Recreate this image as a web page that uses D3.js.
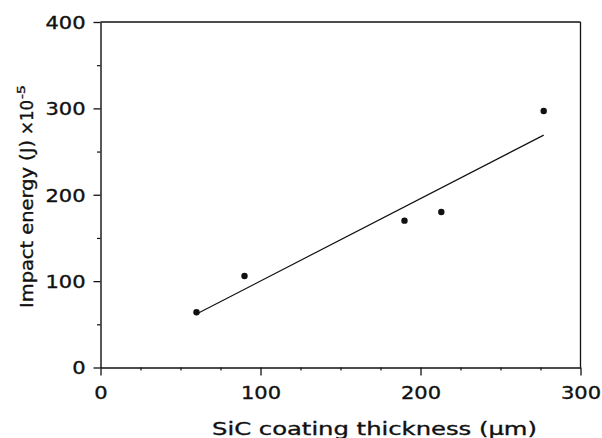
<!DOCTYPE html>
<html>
<head>
<meta charset="utf-8">
<script src="https://cdn.jsdelivr.net/npm/d3@7"></script>
<style>
  html, body { margin: 0; padding: 0; background: #fff; }
  svg { display: block; }
  text { font-family: "DejaVu Sans", sans-serif; fill: #111; stroke: #111; stroke-width: 0.35px; }
</style>
</head>
<body>
<svg id="chart" width="602" height="438"></svg>
<script>
// ---- data ----
const thicknessUm = [60, 90, 190, 213, 277];
const impactEnergy = [64, 106, 170, 180, 297];
const fitThickness = [60, 277];
const fitEnergy = [62, 269];
const xMajorTicks = [0, 100, 200, 300];
const xMinorTicks = [25, 50, 75, 125, 150, 175, 225, 250, 275];
const yMajorTicks = [0, 100, 200, 300, 400];
const yMinorTicks = [50, 150, 250, 350];
const xTitle = "SiC coating thickness (\u03bcm)";
const yTitle = "Impact energy (J)";
const yTitleFactor = "\u00d710";
const yTitleExp = "-5";

// ---- layout ----
const svg = d3.select("#chart");
const mLeft = 100.5, mRight = 580.5, mTop = 22, mBottom = 367.5;
const x = d3.scaleLinear().domain([0, 300]).range([mLeft, mRight]);
const y = d3.scaleLinear().domain([0, 400]).range([mBottom, mTop]);
const ink = "#111";
const sx = 1.2;

// minor ticks
svg.append("g").attr("transform", `translate(0,${mBottom})`)
  .call(d3.axisBottom(x).tickValues(xMinorTicks).tickSize(3).tickSizeOuter(0).tickFormat(""))
  .call(g => g.select(".domain").remove())
  .call(g => g.selectAll("line").attr("stroke", ink).attr("stroke-width", 1.2));
svg.append("g").attr("transform", `translate(${mLeft},0)`)
  .call(d3.axisLeft(y).tickValues(yMinorTicks).tickSize(3.5).tickSizeOuter(0).tickFormat(""))
  .call(g => g.select(".domain").remove())
  .call(g => g.selectAll("line").attr("stroke", ink).attr("stroke-width", 1.2));

// major x axis
svg.append("g").attr("transform", `translate(0,${mBottom})`)
  .call(d3.axisBottom(x).tickValues(xMajorTicks).tickSize(8).tickSizeOuter(0).tickFormat(d3.format("d")))
  .call(g => g.select(".domain").attr("stroke", ink).attr("stroke-width", 1.4))
  .call(g => g.selectAll("line").attr("stroke", ink).attr("stroke-width", 1.3))
  .call(g => g.selectAll("text")
    .attr("y", 19).attr("dy", "0.71em")
    .attr("transform", `scale(${sx},1)`)
    .style("font-size", "17.5px").style("font-family", "DejaVu Sans, sans-serif").attr("fill", ink));

// major y axis
svg.append("g").attr("transform", `translate(${mLeft},0)`)
  .call(d3.axisLeft(y).tickValues(yMajorTicks).tickSize(7).tickSizeOuter(0).tickFormat(d3.format("d")))
  .call(g => g.select(".domain").attr("stroke", ink).attr("stroke-width", 1.4))
  .call(g => g.selectAll("line").attr("stroke", ink).attr("stroke-width", 1.3))
  .call(g => g.selectAll("text")
    .attr("x", -15 / sx).attr("dy", "0.36em")
    .attr("transform", `scale(${sx},1)`)
    .style("font-size", "17.5px").style("font-family", "DejaVu Sans, sans-serif").attr("fill", ink));

// box top and right
svg.append("line")
  .attr("x1", x(0)).attr("y1", y(400)).attr("x2", x(300)).attr("y2", y(400))
  .attr("stroke", ink).attr("stroke-width", 1.3);
svg.append("line")
  .attr("x1", x(300)).attr("y1", y(400)).attr("x2", x(300)).attr("y2", y(0))
  .attr("stroke", ink).attr("stroke-width", 1.3);

// fit line
const fit = fitThickness.map((d, i) => [d, fitEnergy[i]]);
svg.append("path")
  .datum(fit)
  .attr("fill", "none").attr("stroke", ink).attr("stroke-width", 1.2)
  .attr("d", d3.line().x(d => x(d[0])).y(d => y(d[1])));

// points
svg.append("g").selectAll("circle")
  .data(thicknessUm.map((d, i) => [d, impactEnergy[i]]))
  .join("circle")
  .attr("cx", d => x(d[0])).attr("cy", d => y(d[1]))
  .attr("r", 3.2).attr("fill", ink);

// x title
svg.append("text")
  .attr("x", 212).attr("y", 435)
  .attr("textLength", 325).attr("lengthAdjust", "spacingAndGlyphs")
  .style("font-size", "18px")
  .text(xTitle);

// y title
const yt = svg.append("g").attr("transform", "translate(32.5,308) rotate(-90)");
yt.append("text").attr("x", 0).attr("y", 0)
  .attr("textLength", 168).attr("lengthAdjust", "spacingAndGlyphs")
  .style("font-size", "17px").text(yTitle);
yt.append("text").attr("x", 173).attr("y", 0)
  .attr("textLength", 35).attr("lengthAdjust", "spacingAndGlyphs")
  .style("font-size", "17px").text(yTitleFactor);
yt.append("text").attr("x", 209).attr("y", -8)
  .attr("textLength", 14).attr("lengthAdjust", "spacingAndGlyphs")
  .style("font-size", "11px").text(yTitleExp);
</script>
</body>
</html>
